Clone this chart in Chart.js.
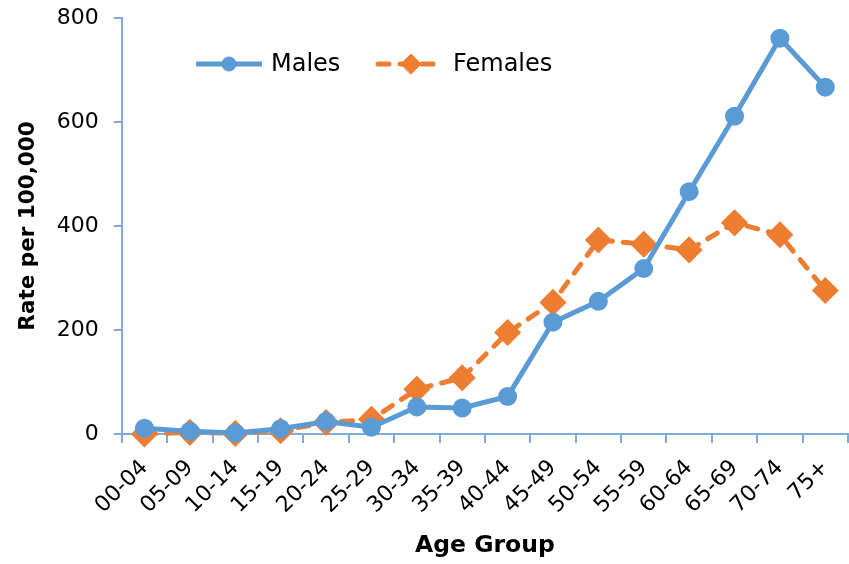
<!DOCTYPE html>
<html>
<head>
<meta charset="utf-8">
<script src="https://cdn.jsdelivr.net/npm/chart.js@4.4.1/dist/chart.umd.min.js"></script>
<style>
  html, body { margin: 0; padding: 0; background: #fff; }
  #wrap { width: 849px; height: 564px; }
</style>
</head>
<body>
<div id="wrap"><canvas id="myChart" width="849" height="564"></canvas></div>
<script>
// age groups on the x axis
const ageGroups = ['00-04', '05-09', '10-14', '15-19', '20-24', '25-29', '30-34', '35-39',
  '40-44', '45-49', '50-54', '55-59', '60-64', '65-69', '70-74', '75+'];
// rate per 100,000
const males = [11, 5, 2, 10, 24, 13, 52, 50, 72, 215, 255, 318, 466, 611, 761, 667];
const females = [0, 3, 1, 6, 22, 28, 86, 108, 195, 253, 373, 365, 354, 406, 383, 276];
const yTicks = [0, 200, 400, 600, 800];

const blue = '#5B9BD5';
const orange = '#ED7D31';
const axisColor = '#7FAADB';
const font = 'DejaVu Sans';

// legend sits inside the plot (excel style: line + marker + name)
const insideLegend = {
  id: 'insideLegend',
  afterDatasetsDraw(chart) {
    const ctx = chart.ctx;
    const ds = chart.data.datasets;
    const y = 64;
    const xs = [194, 376];
    ctx.save();
    ds.forEach(function(d, i) {
      const x = xs[i];
      ctx.strokeStyle = d.borderColor;
      ctx.lineWidth = d.borderWidth;
      ctx.lineCap = d.borderCapStyle || 'butt';
      ctx.setLineDash(d.borderDash || []);
      ctx.beginPath();
      ctx.moveTo(x + 2, y);
      ctx.lineTo(x + 68, y);
      ctx.stroke();
      ctx.setLineDash([]);
      ctx.fillStyle = d.pointBackgroundColor;
      ctx.strokeStyle = d.pointBorderColor;
      ctx.lineWidth = 1;
      Chart.helpers.drawPoint(ctx, {
        pointStyle: d.pointStyle,
        radius: d.pointRadius,
        borderWidth: 1,
        rotation: 0
      }, x + 35, y);
      ctx.fillStyle = '#000';
      ctx.font = '24px "' + font + '"';
      ctx.textBaseline = 'middle';
      ctx.fillText(d.label, x + 77, y + 1);
    });
    ctx.restore();
  }
};

const ctx = document.getElementById('myChart').getContext('2d');
const myChart = new Chart(ctx, {
  type: 'line',
  data: {
    labels: ageGroups,
    datasets: [{
      label: 'Males',
      data: males,
      borderColor: blue,
      backgroundColor: blue,
      pointBackgroundColor: blue,
      pointBorderColor: blue,
      borderWidth: 5,
      pointStyle: 'circle',
      pointRadius: 7,
      tension: 0,
      clip: false
    }, {
      label: 'Females',
      data: females,
      borderColor: orange,
      backgroundColor: orange,
      pointBackgroundColor: orange,
      pointBorderColor: orange,
      borderWidth: 5,
      borderDash: [11, 11],
      borderCapStyle: 'round',
      pointStyle: 'rectRot',
      pointRadius: 10,
      tension: 0,
      clip: false
    }]
  },
  options: {
    responsive: false,
    animation: false,
    layout: { autoPadding: false, padding: { top: 18, right: 1, left: 12, bottom: 0 } },
    plugins: {
      legend: { display: false },
      tooltip: { enabled: false }
    },
    scales: {
      x: {
        offset: true,
        afterFit(scale) {
          scale.paddingRight = 0; // let the axis run to the right edge
        },
        grid: {
          offset: true,
          drawOnChartArea: false,
          color: axisColor,
          tickLength: 9,
          lineWidth: 2
        },
        border: { color: axisColor, width: 2 },
        ticks: {
          minRotation: 45,
          maxRotation: 45,
          padding: 12,
          color: '#000',
          font: { family: font, size: 22 }
        },
        title: {
          display: true,
          text: 'Age Group',
          color: '#000',
          padding: { top: 1 },
          font: { family: font, size: 23.5, weight: 'bold' }
        }
      },
      y: {
        min: 0,
        max: 800,
        afterBuildTicks(axis) {
          axis.ticks = yTicks.map(v => ({ value: v }));
        },
        afterFit(scale) {
          scale.paddingTop = 0;
          scale.paddingBottom = 0;
        },
        grid: {
          drawOnChartArea: false,
          color: axisColor,
          tickLength: 8,
          lineWidth: 2
        },
        border: { color: axisColor, width: 2 },
        ticks: {
          padding: 15,
          color: '#000',
          font: { family: font, size: 22 }
        },
        title: {
          display: true,
          text: 'Rate per 100,000',
          color: '#000',
          padding: { bottom: 0 },
          font: { family: font, size: 21.5, weight: 'bold' }
        }
      }
    }
  },
  plugins: [insideLegend]
});
</script>
</body>
</html>
